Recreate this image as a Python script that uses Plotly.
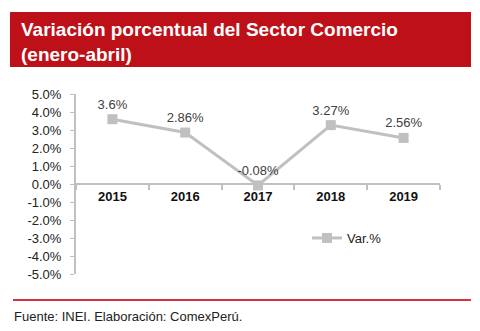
import plotly.graph_objects as go

years = ["2015", "2016", "2017", "2018", "2019"]
values = [3.6, 2.86, -0.08, 3.27, 2.56]
labels = ["3.6%", "2.86%", "-0.08%", "3.27%", "2.56%"]
ytick_vals = [5, 4, 3, 2, 1, 0, -1, -2, -3, -4, -5]
ytick_text = ["5.0%", "4.0%", "3.0%", "2.0%", "1.0%", "0.0%", "-1.0%", "-2.0%", "-3.0%", "-4.0%", "-5.0%"]

W, H = 480, 331
L, R, T, B = 76, 440, 94, 274

def px(x):
    return (x - L) / (R - L)

def py(y):
    return (B - y) / (B - T)

FONT = "Liberation Sans, Arial, sans-serif"
GRAY = "#c0c0c0"

fig = go.Figure()
fig.add_trace(go.Scatter(
    x=years, y=values, mode="lines+markers+text", name="Var.%",
    text=labels, textposition="top center",
    textfont=dict(family=FONT, size=13, color="#404040"),
    line=dict(color=GRAY, width=3),
    marker=dict(symbol="square", size=10, color=GRAY),
    cliponaxis=False,
))

fig.update_layout(
    width=W, height=H,
    margin=dict(l=L, r=W - R, t=T, b=H - B, pad=0),
    paper_bgcolor="white", plot_bgcolor="white",
    font=dict(family=FONT, size=13, color="#222"),
    showlegend=True,
    legend=dict(x=px(307), y=py(238), xanchor="left", yanchor="middle",
                font=dict(family=FONT, size=13, color="#222"),
                bgcolor="rgba(0,0,0,0)"),
    xaxis=dict(type="category", range=[-0.5, 4.5], anchor="free", position=0.5,
               showline=True, linecolor=GRAY, linewidth=2, showgrid=False,
               ticks="outside", tickson="boundaries", ticklen=5, tickcolor=GRAY, tickwidth=2,
               tickfont=dict(family=FONT, size=13, color="#111", weight="bold"),
               zeroline=False),
    yaxis=dict(range=[-5, 5], tickvals=ytick_vals, ticktext=ytick_text,
               showline=True, linecolor=GRAY, linewidth=2, showgrid=False, zeroline=False,
               ticks="outside", ticklen=4, tickcolor=GRAY, tickwidth=1,
               ticklabelstandoff=6,
               tickfont=dict(family=FONT, size=13, color="#222")),
    shapes=[
        dict(type="rect", xref="paper", yref="paper",
             x0=px(10), x1=px(471), y0=py(67), y1=py(12),
             fillcolor="#be1018", line=dict(width=0), layer="below"),
        dict(type="line", xref="paper", yref="paper",
             x0=px(13), x1=px(471), y0=py(300), y1=py(300),
             line=dict(color="#d6323a", width=2)),
    ],
    annotations=[
        dict(xref="paper", yref="paper", x=px(19), y=py(17), xanchor="left", yanchor="top",
             align="left", showarrow=False,
             text="<b>Variación porcentual del Sector Comercio<br>(enero-abril)</b>",
             font=dict(family=FONT, size=19, color="white")),
        dict(xref="paper", yref="paper", x=px(12), y=py(316), xanchor="left", yanchor="middle",
             showarrow=False, text="Fuente: INEI. Elaboración: ComexPerú.",
             font=dict(family=FONT, size=13, color="#222")),
    ],
)

fig.write_html("out.html")
